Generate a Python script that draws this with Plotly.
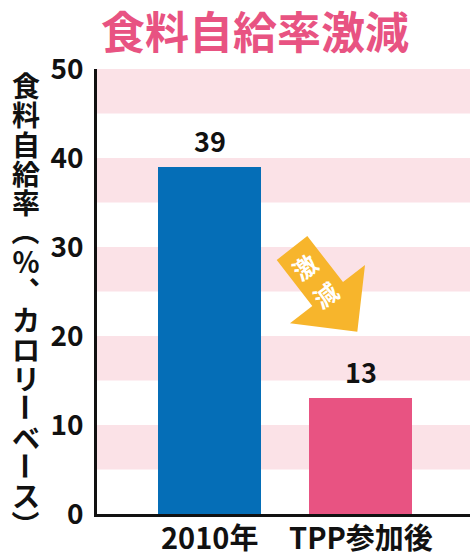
import plotly.graph_objects as go

categories = ["2010年", "TPP参加後"]
values = [39, 13]
bar_colors = ["#056EB7", "#E85382"]
y_ticks = [0, 10, 20, 30, 40, 50]
title_text = "食料自給率激減"
y_title_chars = ["食", "料", "自", "給", "率", "（", "％", "︑", "カ", "ロ", "リ", "ー", "ベ", "ー", "ス", "）"]
rotated_chars = {"（", "）", "ー"}
arrow_label = ["激", "減"]

W, H = 470, 554
L, R, T, B = 97, 0, 69, 40
PW, PH = W - L - R, H - T - B

def px2paper(px, py):
    return (px - L) / PW, (H - B - py) / PH

FONT = "Noto Sans CJK JP"

fig = go.Figure()
fig.add_trace(go.Bar(
    x=categories, y=values, marker=dict(color=bar_colors, line=dict(width=0)),
    width=0.68, hoverinfo="skip",
))

shapes = []
for lo in range(5, 50, 10):
    shapes.append(dict(type="rect", xref="paper", yref="y", x0=0, x1=1, y0=lo, y1=lo + 5,
                       fillcolor="#FBE2E7", line=dict(width=0), layer="below"))

pts = [(276.7, 260), (307.3, 236), (343, 282), (365, 265), (357.3, 331.7), (290, 323.3), (312.3, 305.9)]
pp = [px2paper(*p) for p in pts]
path = "M " + " L ".join(f"{x:.4f},{y:.4f}" for x, y in pp) + " Z"
shapes.append(dict(type="path", xref="paper", yref="paper", path=path,
                   fillcolor="#F7B52C", line=dict(width=0), layer="above"))

annotations = []
for c, v in zip(categories, values):
    annotations.append(dict(x=c, y=v, xref="x", yref="y", text=str(v), showarrow=False,
                            yanchor="bottom", yshift=5,
                            font=dict(family=FONT, size=27, color="#111111", weight="bold")))
_, ly = px2paper(0, 536)
for c in categories:
    annotations.append(dict(x=c, y=ly, xref="x", yref="paper", text=c, showarrow=False,
                            xanchor="center", yanchor="middle",
                            font=dict(family=FONT, size=29, color="#111111", weight="bold")))
tx, ty = px2paper(254.5, 30)
annotations.append(dict(x=tx, y=ty, xref="paper", yref="paper", text=title_text, showarrow=False,
                        xanchor="center", yanchor="middle",
                        font=dict(family=FONT, size=44, color="#E85382", weight="bold")))
for i, ch in enumerate(y_title_chars):
    cx, cy = px2paper(26, 85 + i * 29.3)
    annotations.append(dict(x=cx, y=cy, xref="paper", yref="paper", text=ch, showarrow=False,
                            xanchor="center", yanchor="middle",
                            textangle=90 if ch in rotated_chars else 0,
                            font=dict(family=FONT, size=28, color="#111111", weight="bold")))
for ch, (ax_, ay_) in zip(arrow_label, [(304, 266), (325, 294)]):
    cx, cy = px2paper(ax_, ay_)
    annotations.append(dict(x=cx, y=cy, xref="paper", yref="paper", text=ch, showarrow=False,
                            xanchor="center", yanchor="middle", textangle=-37,
                            font=dict(family=FONT, size=24, color="white", weight="bold")))

fig.update_layout(
    width=W, height=H, margin=dict(l=L, r=R, t=T, b=B, pad=0, autoexpand=False),
    plot_bgcolor="white", paper_bgcolor="white", showlegend=False,
    bargap=0, shapes=shapes, annotations=annotations,
    xaxis=dict(range=[-0.745, 1.725], showgrid=False, zeroline=False, automargin=False,
               showline=True, linecolor="#111111", linewidth=2.5, ticks="",
               showticklabels=False),
    yaxis=dict(range=[0, 50], tickvals=y_ticks, showgrid=False, zeroline=False, automargin=False,
               showline=True, linecolor="#111111", linewidth=2.5, ticks="",
               tickfont=dict(family=FONT, size=28, color="#111111", weight="bold"),
               ticklabelstandoff=5),
)

fig.write_html("out.html", config={"displayModeBar": False},
               post_script="document.body.style.margin='0px';document.body.style.overflow='hidden';")
